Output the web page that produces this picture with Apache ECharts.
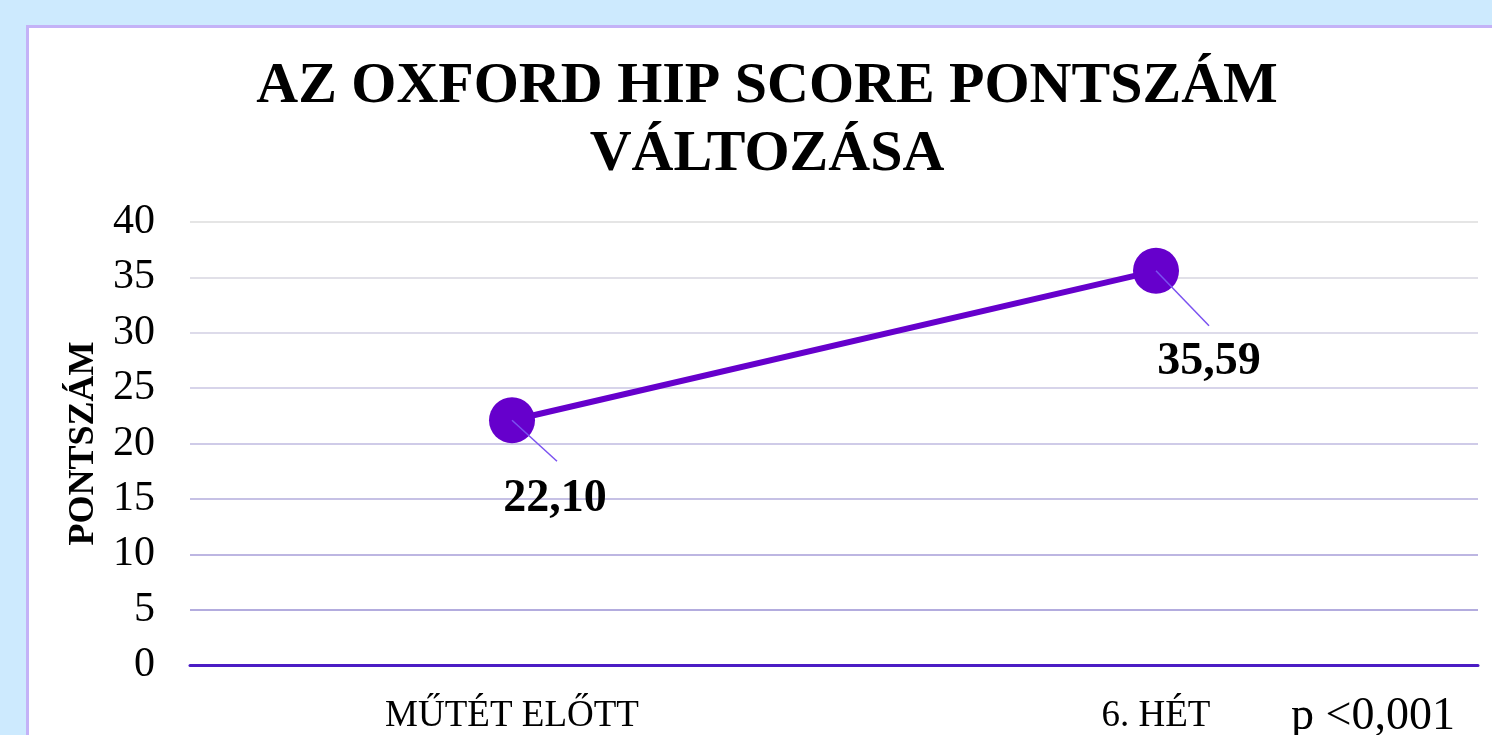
<!DOCTYPE html>
<html>
<head>
<meta charset="utf-8">
<script src="https://cdn.jsdelivr.net/npm/echarts@6/dist/echarts.min.js"></script>
<style>
html,body{margin:0;padding:0;width:1492px;height:735px;overflow:hidden;background:#cdeafe;}
#box{position:absolute;left:26px;top:25px;width:1490px;height:740px;border:3px solid #c4b2f7;background:#fff;}
#chart{position:absolute;left:0;top:0;width:1476px;height:707px;}
</style>
</head>
<body>
<div id="box"><div id="chart"></div></div>
<script>
const titleText = 'AZ OXFORD HIP SCORE PONTSZÁM\nVÁLTOZÁSA';
const categories = ['MŰTÉT ELŐTT', '6. HÉT'];
const scores = [22.10, 35.59];
const yAxisName = 'PONTSZÁM';
const yMin = 0, yMax = 40, yInterval = 5;
const pValueText = 'p <0,001';

const serif = '"Liberation Serif", "Times New Roman", serif';
const leaderOffsets = [[45, 41], [53, 55]];
const chart = echarts.init(document.getElementById('chart'));
chart.setOption({
  animation: false,
  title: {
    text: titleText,
    left: 'center',
    top: 25,
    padding: 0,
    textStyle: {fontFamily: serif, fontWeight: 'bold', fontSize: 58, lineHeight: 68, color: '#000'}
  },
  grid: {left: 161, top: 194, width: 1288, height: 444},
  xAxis: {
    type: 'category',
    data: categories,
    boundaryGap: true,
    axisLine: {show: true, lineStyle: {color: '#4b1cc4', width: 3}},
    axisTick: {show: false},
    axisLabel: {fontFamily: serif, fontSize: 37, color: '#000', margin: 33}
  },
  yAxis: {
    type: 'value',
    min: yMin, max: yMax, interval: yInterval,
    name: yAxisName,
    nameLocation: 'middle',
    nameRotate: 90,
    nameGap: 86,
    nameTextStyle: {fontFamily: serif, fontWeight: 'bold', fontSize: 36, color: '#000'},
    axisLine: {show: false},
    axisTick: {show: false},
    axisLabel: {fontFamily: serif, fontSize: 42, color: '#000', margin: 35},
    splitLine: {show: true, lineStyle: {width: 2, color: ['#b3acde','#b3acde','#bdb6e2','#c6c1e5','#cfcbe8','#d7d4ea','#dddbea','#e1e0e8','#e5e5e5']}}
  },
  series: [{
    type: 'line',
    data: scores,
    lineStyle: {color: '#6600cc', width: 6},
    itemStyle: {color: '#6600cc'},
    symbol: 'circle',
    symbolSize: 46,
    z: 3,
    label: {
      show: true,
      position: 'inside',
      formatter: p => p.value.toFixed(2).replace('.', ','),
      fontFamily: serif, fontWeight: 'bold', fontSize: 46, color: '#000'
    },
    labelLayout: p => (p.dataIndex === 0 ? {dx: 43, dy: 79} : {dx: 53, dy: 91})
  }, {
    type: 'custom',
    z: 5,
    silent: true,
    data: scores.map((v, i) => [i, v]),
    renderItem: (params, api) => {
      const p = api.coord([api.value(0), api.value(1)]);
      const off = leaderOffsets[params.dataIndex];
      return {
        type: 'line',
        shape: {x1: p[0], y1: p[1], x2: p[0] + off[0], y2: p[1] + off[1]},
        style: {stroke: '#7b52f0', lineWidth: 1.5}
      };
    }
  }],
  graphic: [{
    type: 'text',
    left: 1262, top: 666,
    style: {text: pValueText, font: '46px ' + serif, fill: '#000'}
  }]
});
</script>
</body>
</html>
